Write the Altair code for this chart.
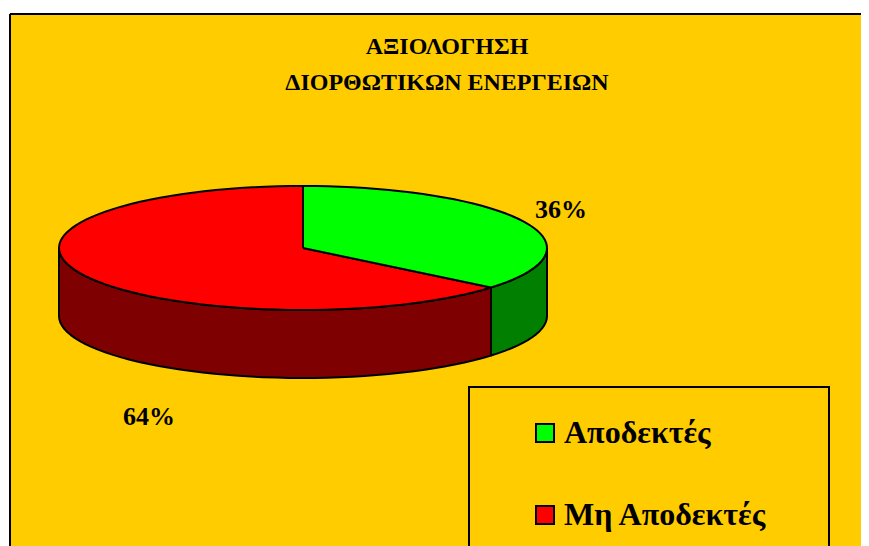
import math
import altair as alt
import pandas as pd

title_lines = ["ΑΞΙΟΛΟΓΗΣΗ", "ΔΙΟΡΘΩΤΙΚΩΝ ΕΝΕΡΓΕΙΩΝ"]
categories = ["Αποδεκτές", "Μη Αποδεκτές"]
shares = [36, 64]
labels = ["36%", "64%"]
top_colors = ["#00FF00", "#FF0000"]
side_colors = ["#007F00", "#7F0000"]
BG = "#FFCC00"
FONT = "Liberation Serif"

DEPTH = 68 / 62  # wall height in units of the vertical radius
STEPS = 120


def arc(a0, a1, drop=0.0):
    n = max(2, int(abs(a1 - a0) / 360 * STEPS) + 1)
    out = []
    for i in range(n + 1):
        t = math.radians(a0 + (a1 - a0) * i / n)
        out.append((math.sin(t), math.cos(t) - drop))
    return out


def frame(points, name):
    return pd.DataFrame(
        [{"part": name, "i": i, "u": p[0], "v": p[1]} for i, p in enumerate(points)]
    )


split = shares[0] / sum(shares) * 360
top_green = [(0, 0)] + arc(0, split) + [(0, 0)]
top_red = [(0, 0)] + arc(split, 360) + [(0, 0)]
side_green = arc(90, split) + arc(split, 90, DEPTH)
side_green.append(side_green[0])
side_red = arc(split, 270) + arc(270, split, DEPTH)
side_red.append(side_red[0])

W, H = 851, 560
CX, CY, RX, RY = 293, 234, 244, 62
x_scale = alt.Scale(domain=[-CX / RX, (W - CX) / RX], nice=False, zero=False)
y_scale = alt.Scale(domain=[-(H - CY) / RY, CY / RY], nice=False, zero=False)


def poly(points, name, color):
    return (
        alt.Chart(frame(points, name))
        .mark_line(fill=color, stroke="black", strokeWidth=2, strokeJoin="round", clip=True)
        .encode(
            x=alt.X("u:Q", scale=x_scale, axis=None),
            y=alt.Y("v:Q", scale=y_scale, axis=None),
            order="i:Q",
        )
    )


one = pd.DataFrame({"a": [0]})
frame_left = alt.Chart(one).mark_rule(color="black", strokeWidth=2).encode(
    x=alt.value(0), y=alt.value(0), y2=alt.value(H)
)
frame_top = alt.Chart(one).mark_rule(color="black", strokeWidth=2).encode(
    y=alt.value(0), x=alt.value(0), x2=alt.value(W)
)

legend_box = (
    alt.Chart(one)
    .mark_rect(fill=BG, stroke="black", strokeWidth=2)
    .encode(x=alt.value(459), x2=alt.value(819), y=alt.value(373), y2=alt.value(600))
)

legend_src = (
    alt.Chart(pd.DataFrame({"category": categories, "u": [0, 0], "v": [0, 0]}))
    .mark_point(filled=True, shape="square", size=0)
    .encode(
        x=alt.X("u:Q", scale=x_scale, axis=None),
        y=alt.Y("v:Q", scale=y_scale, axis=None),
        color=alt.Color(
            "category:N",
            scale=alt.Scale(domain=categories, range=top_colors),
            legend=alt.Legend(
                title=None,
                orient="none",
                legendX=519,
                legendY=403,
                symbolType="square",
                symbolSize=324,
                symbolStrokeColor="black",
                symbolStrokeWidth=2,
                symbolOpacity=1,
                labelFont=FONT,
                labelFontWeight="bold",
                labelFontSize=32,
                labelColor="black",
                labelOffset=3,
                labelLimit=400,
                rowPadding=50,
            ),
        ),
    )
)

label_df = pd.DataFrame({"t": labels})
label_a = (
    alt.Chart(label_df[label_df.t == labels[0]])
    .mark_text(font=FONT, fontWeight="bold", fontSize=26, color="black")
    .encode(text="t:N", x=alt.value(551), y=alt.value(196))
)
label_b = (
    alt.Chart(label_df[label_df.t == labels[1]])
    .mark_text(font=FONT, fontWeight="bold", fontSize=26, color="black")
    .encode(text="t:N", x=alt.value(139), y=alt.value(403))
)

chart = (
    alt.layer(
        poly(side_red, "side_red", side_colors[1]),
        poly(side_green, "side_green", side_colors[0]),
        poly(top_red, "top_red", top_colors[1]),
        poly(top_green, "top_green", top_colors[0]),
        legend_box,
        label_a,
        label_b,
        frame_left,
        frame_top,
        legend_src,
    )
    .properties(
        width=W,
        height=H,
        padding={"left": 2, "top": 6, "right": 0, "bottom": 0},
        autosize=alt.AutoSizeParams(type="none"),
        background="white",
        title=alt.TitleParams(
            text=title_lines,
            font=FONT,
            fontWeight="bold",
            fontSize=24,
            lineHeight=36,
            color="black",
            anchor="start",
            align="center",
            dx=438,
            offset=-82,
        ),
    )
    .configure_view(fill=BG, stroke=None)
)

chart.save("out.html", embed_options={"renderer": "svg", "actions": False})
